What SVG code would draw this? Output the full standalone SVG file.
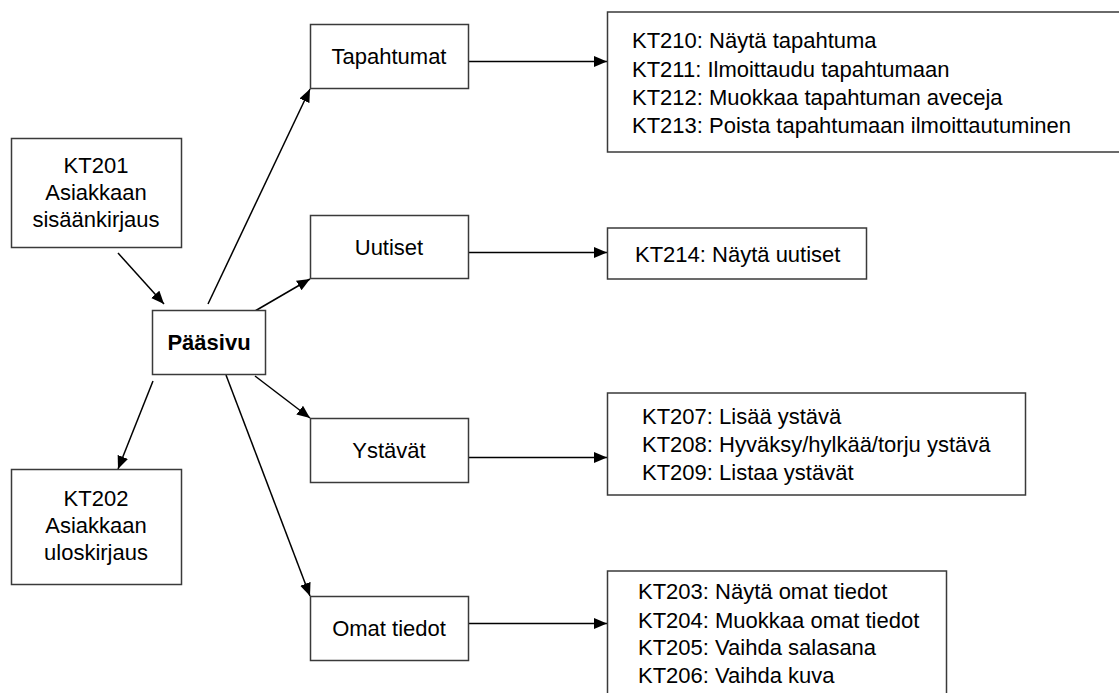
<svg xmlns="http://www.w3.org/2000/svg" width="1119" height="693" viewBox="0 0 1119 693">
<defs>
<style>
.box{fill:#fff;stroke:#3a3a3a;stroke-width:1.5}
.t{font-family:"Liberation Sans",Arial,sans-serif;font-size:22px;fill:#000}
.c{text-anchor:middle}
.b{font-weight:bold}
.conn{stroke:#000;stroke-width:1.5;fill:none;marker-end:url(#ah)}
</style>
<marker id="ah" markerUnits="userSpaceOnUse" markerWidth="14" markerHeight="12" refX="13" refY="5.5" orient="auto">
<path d="M0,0 L13,5.5 L0,11 z" fill="#000"/>
</marker>
</defs>
<rect width="1119" height="693" fill="#fff"/>
<g id="connectors">
<line class="conn" x1="118" y1="253" x2="164" y2="304"/>
<line class="conn" x1="208" y1="304" x2="310" y2="89"/>
<line class="conn" x1="255" y1="311" x2="310" y2="279"/>
<line class="conn" x1="153" y1="381" x2="118" y2="469"/>
<line class="conn" x1="255" y1="376" x2="310" y2="418"/>
<line class="conn" x1="226" y1="375" x2="310" y2="596"/>
<line class="conn" x1="468" y1="61.5" x2="607" y2="61.5"/>
<line class="conn" x1="468" y1="252.5" x2="607" y2="252.5"/>
<line class="conn" x1="468" y1="457.5" x2="607" y2="457.5"/>
<line class="conn" x1="468" y1="623.5" x2="607" y2="623.5"/>
</g>
<g id="kt201">
<rect class="box" x="11.5" y="138.5" width="170" height="109"/>
<text class="t c" x="96" y="173">KT201</text>
<text class="t c" x="96" y="200">Asiakkaan</text>
<text class="t c" x="96" y="227">sisäänkirjaus</text>
</g>
<g id="paasivu">
<rect class="box" x="152.5" y="310.5" width="113" height="64"/>
<text class="t c b" x="209" y="350">Pääsivu</text>
</g>
<g id="kt202">
<rect class="box" x="11.5" y="469.5" width="170" height="115"/>
<text class="t c" x="96" y="506">KT202</text>
<text class="t c" x="96" y="533">Asiakkaan</text>
<text class="t c" x="96" y="560">uloskirjaus</text>
</g>
<g id="tapahtumat">
<rect class="box" x="310.5" y="24.5" width="158" height="64"/>
<text class="t c" x="389" y="64">Tapahtumat</text>
</g>
<g id="uutiset">
<rect class="box" x="310.5" y="215.5" width="158" height="63"/>
<text class="t c" x="389" y="255">Uutiset</text>
</g>
<g id="ystavat">
<rect class="box" x="310.5" y="418.5" width="158" height="64"/>
<text class="t c" x="389" y="458">Ystävät</text>
</g>
<g id="omat">
<rect class="box" x="310.5" y="596.5" width="158" height="64"/>
<text class="t c" x="389" y="636">Omat tiedot</text>
</g>
<g id="tapahtumat-list">
<rect class="box" x="607.5" y="12" width="520" height="140"/>
<text class="t" x="632" y="48">KT210: Näytä tapahtuma</text>
<text class="t" x="632" y="76.5">KT211: Ilmoittaudu tapahtumaan</text>
<text class="t" x="632" y="105">KT212: Muokkaa tapahtuman aveceja</text>
<text class="t" x="632" y="133">KT213: Poista tapahtumaan ilmoittautuminen</text>
</g>
<g id="uutiset-list">
<rect class="box" x="607.5" y="228" width="259" height="51"/>
<text class="t" x="635" y="261.5">KT214: Näytä uutiset</text>
</g>
<g id="ystavat-list">
<rect class="box" x="607.5" y="393" width="418" height="102"/>
<text class="t" x="642" y="424">KT207: Lisää ystävä</text>
<text class="t" x="642" y="452">KT208: Hyväksy/hylkää/torju ystävä</text>
<text class="t" x="642" y="480">KT209: Listaa ystävät</text>
</g>
<g id="omat-list">
<rect class="box" x="607.5" y="571" width="339" height="140"/>
<text class="t" x="638" y="599">KT203: Näytä omat tiedot</text>
<text class="t" x="638" y="627.5">KT204: Muokkaa omat tiedot</text>
<text class="t" x="638" y="655">KT205: Vaihda salasana</text>
<text class="t" x="638" y="683">KT206: Vaihda kuva</text>
</g>
</svg>
